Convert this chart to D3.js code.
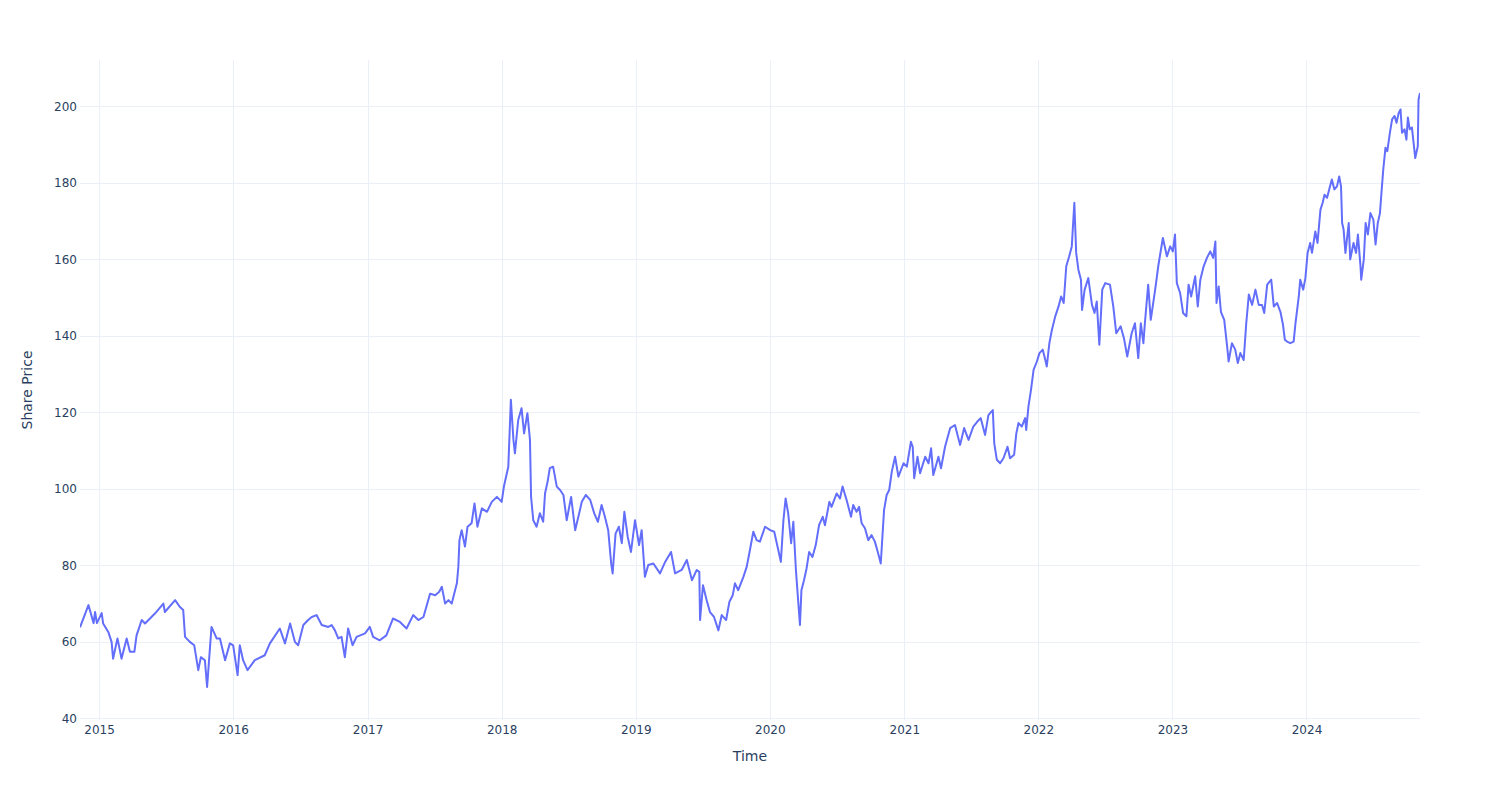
<!DOCTYPE html>
<html>
<head>
<meta charset="utf-8">
<script src="https://cdn.jsdelivr.net/npm/d3@7/dist/d3.min.js"></script>
<style>
  html, body { margin: 0; padding: 0; background: #fff; }
  svg text { font-family: "DejaVu Sans", Verdana, Arial, sans-serif; fill: #2a3f5f; }
</style>
</head>
<body>
<svg id="chart" width="1500" height="800"></svg>
<script>
const dates = [
"2014-11-10","2014-12-03","2014-12-17","2014-12-21","2014-12-26","2015-01-08","2015-01-12","2015-01-26","2015-02-04","2015-02-08",
"2015-02-20","2015-03-03","2015-03-17","2015-03-26","2015-04-07","2015-04-13","2015-04-27","2015-05-06","2015-06-02","2015-06-25",
"2015-06-29","2015-07-27","2015-08-09","2015-08-18","2015-08-23","2015-09-05","2015-09-17","2015-09-28","2015-10-05","2015-10-16",
"2015-10-22","2015-11-03","2015-11-17","2015-11-26","2015-12-10","2015-12-23","2016-01-01","2016-01-13","2016-01-19","2016-01-28",
"2016-02-09","2016-02-29","2016-03-27","2016-04-10","2016-05-07","2016-05-21","2016-06-04","2016-06-17","2016-06-26","2016-07-10",
"2016-07-23","2016-08-02","2016-08-15","2016-08-29","2016-09-16","2016-09-25","2016-10-04","2016-10-13","2016-10-22","2016-10-31",
"2016-11-09","2016-11-21","2016-12-02","2016-12-25","2017-01-07","2017-01-16","2017-02-03","2017-02-21","2017-03-11","2017-03-30",
"2017-04-17","2017-05-05","2017-05-19","2017-06-02","2017-06-20","2017-07-04","2017-07-15","2017-07-22","2017-07-31","2017-08-09",
"2017-08-18","2017-09-01","2017-09-05","2017-09-08","2017-09-14","2017-09-23","2017-09-30","2017-10-11","2017-10-19","2017-10-27",
"2017-11-08","2017-11-22","2017-12-05","2017-12-19","2018-01-01","2018-01-07","2018-01-19","2018-01-26","2018-02-02","2018-02-06",
"2018-02-15","2018-02-24","2018-03-03","2018-03-12","2018-03-19","2018-03-22","2018-03-28","2018-04-06","2018-04-15","2018-04-24",
"2018-04-29","2018-05-06","2018-05-12","2018-05-21","2018-05-31","2018-06-09","2018-06-18","2018-06-27","2018-07-09","2018-07-20",
"2018-07-31","2018-08-07","2018-08-18","2018-08-30","2018-09-10","2018-09-20","2018-09-30","2018-10-09","2018-10-18","2018-10-26",
"2018-10-30","2018-11-07","2018-11-16","2018-11-24","2018-12-01","2018-12-10","2018-12-19","2018-12-30","2019-01-10","2019-01-17",
"2019-01-26","2019-02-04","2019-02-18","2019-03-08","2019-03-22","2019-04-07","2019-04-18","2019-05-06","2019-05-20","2019-06-03",
"2019-06-16","2019-06-23","2019-06-25","2019-07-03","2019-07-13","2019-07-22","2019-08-02","2019-08-14","2019-08-23","2019-09-04",
"2019-09-13","2019-09-22","2019-09-28","2019-10-07","2019-10-21","2019-10-30","2019-11-06","2019-11-17","2019-11-26","2019-12-05",
"2019-12-19","2020-01-02","2020-01-13","2020-01-24","2020-01-31","2020-02-07","2020-02-13","2020-02-20","2020-02-28","2020-03-05",
"2020-03-12","2020-03-18","2020-03-23","2020-03-27","2020-04-03","2020-04-10","2020-04-17","2020-04-26","2020-05-05","2020-05-14",
"2020-05-24","2020-05-30","2020-06-11","2020-06-17","2020-07-01","2020-07-10","2020-07-17","2020-07-28","2020-08-09","2020-08-15",
"2020-08-24","2020-08-31","2020-09-07","2020-09-16","2020-09-25","2020-10-04","2020-10-13","2020-10-22","2020-10-29","2020-11-03",
"2020-11-07","2020-11-14","2020-11-21","2020-11-28","2020-12-07","2020-12-16","2020-12-30","2021-01-08","2021-01-19","2021-01-24",
"2021-01-28","2021-02-06","2021-02-13","2021-02-27","2021-03-08","2021-03-15","2021-03-21","2021-04-04","2021-04-11","2021-04-22",
"2021-05-06","2021-05-19","2021-06-02","2021-06-13","2021-06-25","2021-07-08","2021-07-19","2021-07-28","2021-08-09","2021-08-18",
"2021-08-30","2021-09-03","2021-09-10","2021-09-19","2021-09-28","2021-10-09","2021-10-16","2021-10-27","2021-11-02","2021-11-08",
"2021-11-17","2021-11-26","2021-11-29","2021-12-05","2021-12-12","2021-12-19","2021-12-28","2022-01-04","2022-01-13","2022-01-20",
"2022-01-24","2022-01-31","2022-02-07","2022-02-16","2022-02-25","2022-03-04","2022-03-11","2022-03-18","2022-03-26","2022-04-02",
"2022-04-09","2022-04-14","2022-04-20","2022-04-27","2022-04-30","2022-05-07","2022-05-17","2022-05-27","2022-06-03","2022-06-09",
"2022-06-16","2022-06-24","2022-07-02","2022-07-15","2022-07-24","2022-08-01","2022-08-13","2022-08-22","2022-08-31","2022-09-12",
"2022-09-21","2022-09-30","2022-10-07","2022-10-14","2022-10-18","2022-10-27","2022-11-03","2022-11-15","2022-11-24","2022-12-06",
"2022-12-17","2022-12-26","2023-01-02","2023-01-08","2023-01-13","2023-01-22","2023-01-30","2023-02-08","2023-02-14","2023-02-21",
"2023-03-04","2023-03-11","2023-03-18","2023-03-27","2023-04-05","2023-04-14","2023-04-22","2023-04-28","2023-05-01","2023-05-07",
"2023-05-13","2023-05-22","2023-05-30","2023-06-03","2023-06-12","2023-06-21","2023-06-28","2023-07-05","2023-07-14","2023-07-21",
"2023-07-28","2023-08-06","2023-08-15","2023-08-24","2023-09-02","2023-09-08","2023-09-16","2023-09-27","2023-10-04","2023-10-13",
"2023-10-22","2023-10-29","2023-11-03","2023-11-09","2023-11-18","2023-11-27","2023-12-02","2023-12-11","2023-12-15","2023-12-23",
"2023-12-29","2024-01-04","2024-01-11","2024-01-16","2024-01-25","2024-01-31","2024-02-08","2024-02-14","2024-02-19","2024-02-26",
"2024-03-04","2024-03-10","2024-03-17","2024-03-24","2024-03-30","2024-04-04","2024-04-07","2024-04-11","2024-04-16","2024-04-25",
"2024-04-29","2024-05-08","2024-05-15","2024-05-20","2024-05-27","2024-05-29","2024-06-05","2024-06-10","2024-06-16","2024-06-23",
"2024-07-01","2024-07-07","2024-07-13","2024-07-19","2024-07-22","2024-07-28","2024-08-03","2024-08-08","2024-08-15","2024-08-21",
"2024-08-28","2024-09-02","2024-09-08","2024-09-13","2024-09-17","2024-09-24","2024-09-29","2024-10-03","2024-10-08","2024-10-14",
"2024-10-21","2024-10-23","2024-10-30","2024-11-01","2024-11-05"
];
const prices = [
63.8,69.6,64.9,67.8,64.9,67.5,64.8,62.6,60.0,55.6,
60.9,55.6,60.9,57.4,57.4,61.7,65.7,64.8,67.4,70.0,
67.8,70.9,69.1,68.3,61.3,60.0,59.1,52.6,56.0,55.2,
48.2,63.9,60.9,60.9,55.2,59.6,59.1,51.3,59.1,55.2,
52.6,55.2,56.5,59.6,63.5,59.6,64.8,60.0,59.1,64.4,
65.7,66.5,67.0,64.4,63.9,64.4,63.0,60.9,61.3,56.0,
63.5,59.1,61.3,62.2,63.9,61.3,60.4,61.7,66.1,65.2,
63.5,67.0,65.7,66.5,72.6,72.2,73.1,74.4,70.0,70.9,
70.0,75.3,79.6,86.6,89.2,84.9,90.1,91.0,96.2,90.1,
94.9,94.0,96.6,97.9,96.6,100.6,105.8,123.3,112.8,109.3,
118.0,121.1,114.5,119.8,112.8,97.9,91.8,90.1,93.6,91.4,
98.8,101.9,105.4,105.8,100.6,99.7,98.4,91.8,97.9,89.2,
93.6,96.6,98.4,97.1,93.6,91.4,95.8,92.7,89.2,80.5,
77.9,88.3,90.1,85.8,94.0,87.5,83.5,91.8,85.3,89.2,
77.0,80.1,80.5,77.9,80.9,83.5,77.9,78.8,81.4,76.1,
78.8,78.3,65.7,74.8,70.9,67.8,66.5,63.0,67.0,65.7,
70.5,72.2,75.3,73.5,77.0,79.6,83.1,88.8,86.6,86.2,
90.1,89.2,88.8,84.0,80.9,91.8,97.5,93.6,85.8,91.4,
78.8,70.9,64.4,73.5,76.1,79.2,83.5,82.2,85.3,90.5,
92.7,90.5,96.6,95.3,98.8,97.5,100.6,97.1,92.7,95.8,
94.0,95.3,91.0,89.7,86.6,87.9,86.2,83.1,80.5,88.3,
94.5,98.4,99.7,104.5,108.4,103.2,106.7,105.8,112.3,111.0,
102.8,108.4,104.1,108.4,106.7,110.6,103.6,108.4,105.4,111.0,
115.9,116.7,111.5,115.9,112.8,116.3,117.6,118.5,114.1,119.3,
120.6,111.9,107.6,106.7,108.0,111.0,108.0,108.9,114.5,117.2,
116.3,118.5,115.4,121.5,125.9,131.1,133.3,135.5,136.4,133.7,
132.0,138.1,141.6,145.1,147.7,150.3,148.6,158.2,160.8,163.4,
174.8,161.7,157.3,154.7,146.8,152.1,155.1,148.1,146.0,149.0,
137.7,152.1,153.8,153.4,147.7,140.7,142.5,139.4,134.6,140.7,
143.3,134.2,143.3,138.1,143.3,153.4,144.2,152.1,158.6,165.6,
160.8,163.4,162.1,166.5,153.8,151.2,146.0,145.1,153.4,150.3,
155.6,147.7,154.7,158.2,160.4,162.1,160.4,164.7,148.6,152.9,
146.3,144.2,137.2,133.3,138.1,136.4,132.9,135.5,133.7,143.3,
150.8,148.1,152.1,148.1,148.1,146.0,153.4,154.7,147.7,148.6,
146.3,142.9,139.0,138.5,138.1,138.5,143.3,150.3,154.7,152.1,
155.1,161.7,164.3,161.7,167.3,164.3,173.0,174.8,176.9,176.1,
178.7,180.9,178.3,179.1,181.7,179.1,169.5,167.8,161.7,169.5,
160.0,164.3,161.7,166.5,158.2,154.7,160.0,169.5,166.5,172.1,
170.4,163.9,169.5,172.1,176.1,183.5,189.2,188.3,193.1,196.6,
197.5,195.7,198.3,199.2,193.1,194.0,191.3,197.1,194.0,194.5,
188.3,186.5,189.6,201.8,203.5
];
const yTickValues = [40, 60, 80, 100, 120, 140, 160, 180, 200];
const xTickYears = ["2015","2016","2017","2018","2019","2020","2021","2022","2023","2024"];
const xTitle = "Time";
const yTitle = "Share Price";

const parse = d3.timeParse("%Y-%m-%d");
const data = dates.map((d, i) => ({ date: parse(d), value: prices[i] }));

const W = 1500, H = 800;
const margin = { left: 80, right: 80, top: 60, bottom: 80 };
const pw = W - margin.left - margin.right;
const ph = H - margin.top - margin.bottom;

const svg = d3.select("#chart");
const x = d3.scaleTime().domain(d3.extent(data, d => d.date)).range([margin.left, margin.left + pw]);
const [ymin, ymax] = d3.extent(data, d => d.value);
const pad = (ymax - ymin) * 0.0556;
const y = d3.scaleLinear().domain([ymin - pad, ymax + pad]).range([margin.top + ph, margin.top]);

const grid = "#EBF0F8";
const xTicks = xTickYears.map(s => d3.timeParse("%Y")(s));

// gridlines
svg.append("g").selectAll("line").data(yTickValues).join("line")
  .attr("x1", margin.left).attr("x2", margin.left + pw)
  .attr("y1", d => Math.round(y(d)) + 0.5).attr("y2", d => Math.round(y(d)) + 0.5)
  .attr("stroke", grid).attr("stroke-width", 1);
svg.append("g").selectAll("line").data(xTicks).join("line")
  .attr("y1", margin.top).attr("y2", margin.top + ph)
  .attr("x1", d => Math.round(x(d)) + 0.5).attr("x2", d => Math.round(x(d)) + 0.5)
  .attr("stroke", grid).attr("stroke-width", 1);

// axes (labels only, plotly style)
const yAxis = d3.axisLeft(y).tickValues(yTickValues).tickSize(0).tickPadding(3);
const gy = svg.append("g").attr("transform", `translate(${margin.left},0)`).call(yAxis);
gy.select(".domain").remove();
gy.selectAll("text").style("font-size", "12px").attr("fill", "#2a3f5f");

const xAxis = d3.axisBottom(x).tickValues(xTicks).tickFormat(d3.timeFormat("%Y")).tickSize(0).tickPadding(5);
const gx = svg.append("g").attr("transform", `translate(0,${margin.top + ph})`).call(xAxis);
gx.select(".domain").remove();
gx.selectAll("text").style("font-size", "12px").attr("fill", "#2a3f5f");

// clip
svg.append("clipPath").attr("id", "clip").append("rect")
  .attr("x", margin.left).attr("y", margin.top).attr("width", pw).attr("height", ph);

const line = d3.line().x(d => x(d.date)).y(d => y(d.value));
svg.append("path").datum(data)
  .attr("clip-path", "url(#clip)")
  .attr("fill", "none").attr("stroke", "#636efa").attr("stroke-width", 2)
  .attr("stroke-linejoin", "round")
  .attr("d", line);

// titles
svg.append("text").attr("x", margin.left + pw / 2).attr("y", 761)
  .attr("text-anchor", "middle").style("font-size", "14px").text(xTitle);
svg.append("text").attr("transform", `translate(32,${margin.top + ph / 2}) rotate(-90)`)
  .attr("text-anchor", "middle").style("font-size", "14px").text(yTitle);
</script>
</body>
</html>
